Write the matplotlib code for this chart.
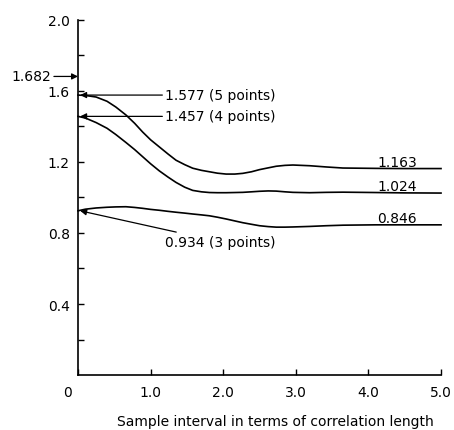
import numpy as np
import matplotlib
matplotlib.use('Agg')
from matplotlib import pyplot as plt
from matplotlib import transforms


# values
x_pts = [0.0, 0.1, 0.25, 0.4, 0.52, 0.66, 0.78, 0.89, 1.0, 1.12, 1.24, 1.35, 1.47, 1.58,
         1.7, 1.81, 1.92, 2.04, 2.16, 2.27, 2.39, 2.5, 2.62, 2.73, 2.85, 2.96, 3.19, 3.42,
         3.65, 4.1, 4.5, 5.0]
five_pts = [1.577, 1.575, 1.566, 1.542, 1.51, 1.465, 1.418, 1.369, 1.325, 1.285, 1.245, 1.21,
            1.185, 1.165, 1.153, 1.145, 1.137, 1.132, 1.132, 1.136, 1.145, 1.157, 1.167, 1.176,
            1.181, 1.183, 1.179, 1.172, 1.166, 1.164, 1.163, 1.163]
four_pts = [1.457, 1.448, 1.422, 1.39, 1.355, 1.31, 1.27, 1.23, 1.19, 1.15, 1.115, 1.085,
            1.058, 1.04, 1.032, 1.028, 1.027, 1.027, 1.028, 1.029, 1.032, 1.035, 1.037, 1.036,
            1.032, 1.029, 1.027, 1.029, 1.03, 1.028, 1.026, 1.025]
three_pts = [0.925, 0.934, 0.941, 0.945, 0.947, 0.948, 0.944, 0.939, 0.933, 0.928, 0.922, 0.917,
             0.912, 0.907, 0.902, 0.897, 0.889, 0.879, 0.868, 0.858, 0.849, 0.841, 0.836, 0.833,
             0.833, 0.834, 0.837, 0.841, 0.844, 0.846, 0.846, 0.846]

start_labels = ['1.577 (5 points)', '1.457 (4 points)', '0.934 (3 points)']
end_labels = ['1.163', '1.024', '0.846']
limit_value = 1.682

x_ticks = [0, 1, 2, 3, 4, 5]
x_ticklabels = ['0', '1.0', '2.0', '3.0', '4.0', '5.0']
y_ticks = [0.4, 0.8, 1.2, 1.6, 2.0]
y_ticklabels = ['0.4', '0.8', '1.2', '1.6', '2.0']
y_minor = [0.2, 0.6, 1.0, 1.4, 1.8]


def MakePlot():
    plt.rcParams['font.family'] = ['DejaVu Sans']
    plt.rcParams['font.size'] = 10
    fig = plt.figure(figsize=(4.54, 4.31), dpi=100)
    ax = fig.add_axes([0.1718, 0.1276, 0.7996, 0.8237])

    series = [five_pts, four_pts, three_pts]
    for ys in series:
        ax.plot(x_pts, ys, color='black', lw=1.2, clip_on=False, solid_joinstyle='round')

    ax.set_xlim(0, 5)
    ax.set_ylim(0, 2.0)
    for side in ['top', 'right']:
        ax.spines[side].set_visible(False)
    for side in ['left', 'bottom']:
        ax.spines[side].set_linewidth(1.2)

    ax.set_xticks(x_ticks)
    ax.set_xticklabels(x_ticklabels)
    ax.set_yticks(y_ticks)
    ax.set_yticklabels(y_ticklabels)
    ax.set_yticks(y_minor, minor=True)
    ax.tick_params(axis='both', which='both', direction='in', length=4, width=1, color='black')
    ax.tick_params(axis='x', pad=7)
    ax.tick_params(axis='y', pad=6)
    lab0 = ax.get_xticklabels()[0]
    lab0.set_transform(lab0.get_transform() + transforms.ScaledTranslation(-10 / 100., 0, fig.dpi_scale_trans))

    ax.set_xlabel('Sample interval in terms of correlation length')
    ax.xaxis.set_label_coords(0.543, -0.11)

    arrow = dict(arrowstyle='-|>', lw=0.9, color='black', mutation_scale=9, shrinkA=0, shrinkB=0)
    # start-point labels with arrows
    text_y = [five_pts[0], four_pts[0], 0.75]
    for ys, lab, ty in zip(series, start_labels, text_y):
        ax.annotate(lab, xy=(0.03, ys[0]), xytext=(1.2, ty), ha='left', va='center',
                    arrowprops=arrow, annotation_clip=False)

    # limiting value on the y axis
    ax.annotate('%.3f' % limit_value, xy=(0, limit_value), xytext=(-0.37, limit_value),
                ha='right', va='center', arrowprops=arrow, annotation_clip=False)

    # end values above the curves
    for ys, lab in zip(series, end_labels):
        ax.annotate(lab, xy=(4.67, ys[-1]), xytext=(0, 3), textcoords='offset pixels',
                    ha='right', va='baseline')

    plt.savefig('out.png', dpi=100)


def main():
    MakePlot()


if __name__ == '__main__':
    main()
